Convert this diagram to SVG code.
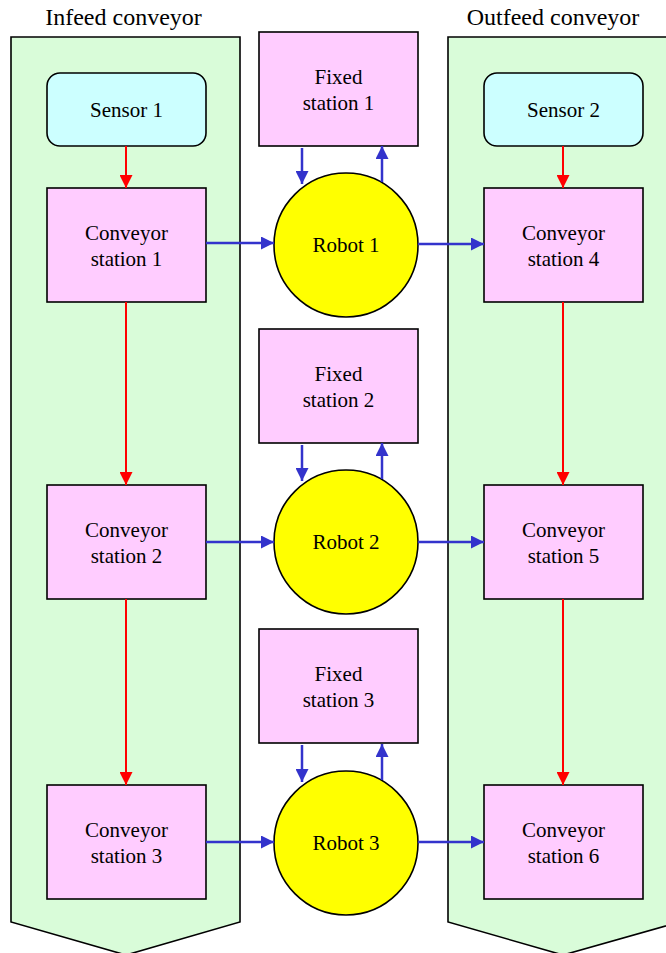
<svg xmlns="http://www.w3.org/2000/svg" width="666" height="953" viewBox="0 0 666 953">
  <defs>
    <style>
      .lane { fill: #d9fcd9; stroke: #000; stroke-width: 1.6; }
      .sensor { fill: #ccffff; stroke: #000; stroke-width: 1.6; }
      .station { fill: #ffccff; stroke: #000; stroke-width: 1.6; }
      .robot { fill: #ffff00; stroke: #000; stroke-width: 1.6; }
      .red { stroke: #ff0000; stroke-width: 2; fill: none; marker-end: url(#ahRed); }
      .blue { stroke: #3333cc; stroke-width: 2.5; fill: none; marker-end: url(#ahBlue); }
    </style>
    <marker id="ahRed" viewBox="0 0 10 10" refX="10" refY="5" markerUnits="userSpaceOnUse" markerWidth="13" markerHeight="13" orient="auto">
      <path d="M0,0 L10,5 L0,10 Z" fill="#ff0000"/>
    </marker>
    <marker id="ahBlue" viewBox="0 0 10 10" refX="10" refY="5" markerUnits="userSpaceOnUse" markerWidth="13" markerHeight="13" orient="auto">
      <path d="M0,0 L10,5 L0,10 Z" fill="#3333cc"/>
    </marker>
  </defs>

  <rect width="666" height="953" fill="#ffffff"/>

  <!-- conveyor lanes -->
  <g id="infeed">
    <path class="lane" d="M11,37 L240,37 L240,922 L126,955 L11,922 Z"/>
    <text font-family="Liberation Serif" font-size="24" text-anchor="middle" x="123.5" y="25">Infeed conveyor</text>
  </g>
  <g id="outfeed">
    <path class="lane" d="M448,37 L680,37 L680,922 L563,955 L448,922 Z"/>
    <text font-family="Liberation Serif" font-size="24" text-anchor="middle" x="553" y="25">Outfeed conveyor</text>
  </g>

  <!-- sensors -->
  <g id="sensor1">
    <rect class="sensor" x="47" y="73" width="159" height="73" rx="13"/>
    <text font-family="Liberation Serif" font-size="21" text-anchor="middle" x="126.5" y="116.5">Sensor 1</text>
  </g>
  <g id="sensor2">
    <rect class="sensor" x="484" y="73" width="159" height="73" rx="13"/>
    <text font-family="Liberation Serif" font-size="21" text-anchor="middle" x="563.5" y="116.5">Sensor 2</text>
  </g>

  <!-- conveyor stations -->
  <g id="cs1">
    <rect class="station" x="47" y="188" width="159" height="114"/>
    <text font-family="Liberation Serif" font-size="21" text-anchor="middle" x="126.5" y="240">Conveyor</text>
    <text font-family="Liberation Serif" font-size="21" text-anchor="middle" x="126.5" y="265.5">station 1</text>
  </g>
  <g id="cs2">
    <rect class="station" x="47" y="485" width="159" height="114"/>
    <text font-family="Liberation Serif" font-size="21" text-anchor="middle" x="126.5" y="537">Conveyor</text>
    <text font-family="Liberation Serif" font-size="21" text-anchor="middle" x="126.5" y="562.5">station 2</text>
  </g>
  <g id="cs3">
    <rect class="station" x="47" y="785" width="159" height="114"/>
    <text font-family="Liberation Serif" font-size="21" text-anchor="middle" x="126.5" y="837">Conveyor</text>
    <text font-family="Liberation Serif" font-size="21" text-anchor="middle" x="126.5" y="862.5">station 3</text>
  </g>
  <g id="cs4">
    <rect class="station" x="484" y="188" width="159" height="114"/>
    <text font-family="Liberation Serif" font-size="21" text-anchor="middle" x="563.5" y="240">Conveyor</text>
    <text font-family="Liberation Serif" font-size="21" text-anchor="middle" x="563.5" y="265.5">station 4</text>
  </g>
  <g id="cs5">
    <rect class="station" x="484" y="485" width="159" height="114"/>
    <text font-family="Liberation Serif" font-size="21" text-anchor="middle" x="563.5" y="537">Conveyor</text>
    <text font-family="Liberation Serif" font-size="21" text-anchor="middle" x="563.5" y="562.5">station 5</text>
  </g>
  <g id="cs6">
    <rect class="station" x="484" y="785" width="159" height="114"/>
    <text font-family="Liberation Serif" font-size="21" text-anchor="middle" x="563.5" y="837">Conveyor</text>
    <text font-family="Liberation Serif" font-size="21" text-anchor="middle" x="563.5" y="862.5">station 6</text>
  </g>

  <!-- fixed stations -->
  <g id="fs1">
    <rect class="station" x="259" y="32" width="159" height="114"/>
    <text font-family="Liberation Serif" font-size="21" text-anchor="middle" x="338.5" y="84">Fixed</text>
    <text font-family="Liberation Serif" font-size="21" text-anchor="middle" x="338.5" y="109.5">station 1</text>
  </g>
  <g id="fs2">
    <rect class="station" x="259" y="329" width="159" height="114"/>
    <text font-family="Liberation Serif" font-size="21" text-anchor="middle" x="338.5" y="381">Fixed</text>
    <text font-family="Liberation Serif" font-size="21" text-anchor="middle" x="338.5" y="406.5">station 2</text>
  </g>
  <g id="fs3">
    <rect class="station" x="259" y="629" width="159" height="114"/>
    <text font-family="Liberation Serif" font-size="21" text-anchor="middle" x="338.5" y="681">Fixed</text>
    <text font-family="Liberation Serif" font-size="21" text-anchor="middle" x="338.5" y="706.5">station 3</text>
  </g>

  <!-- robots -->
  <g id="robot1">
    <circle class="robot" cx="346" cy="245" r="72"/>
    <text font-family="Liberation Serif" font-size="21" text-anchor="middle" x="346" y="252">Robot 1</text>
  </g>
  <g id="robot2">
    <circle class="robot" cx="346" cy="542" r="72"/>
    <text font-family="Liberation Serif" font-size="21" text-anchor="middle" x="346" y="549">Robot 2</text>
  </g>
  <g id="robot3">
    <circle class="robot" cx="346" cy="843" r="72"/>
    <text font-family="Liberation Serif" font-size="21" text-anchor="middle" x="346" y="850">Robot 3</text>
  </g>

  <!-- connectors -->
  <g id="connectors">
    <!-- infeed flow -->
    <line class="red" x1="126" y1="146" x2="126" y2="188"/>
    <line class="red" x1="126" y1="302" x2="126" y2="485"/>
    <line class="red" x1="126" y1="599" x2="126" y2="785"/>
    <!-- outfeed flow -->
    <line class="red" x1="563" y1="146" x2="563" y2="188"/>
    <line class="red" x1="563" y1="302" x2="563" y2="485"/>
    <line class="red" x1="563" y1="599" x2="563" y2="785"/>

    <!-- station to robot -->
    <line class="blue" x1="206" y1="243" x2="274" y2="243"/>
    <line class="blue" x1="206" y1="542" x2="274" y2="542"/>
    <line class="blue" x1="206" y1="842" x2="274" y2="842"/>
    <!-- robot to outfeed -->
    <line class="blue" x1="418" y1="244" x2="484" y2="244"/>
    <line class="blue" x1="418" y1="542" x2="484" y2="542"/>
    <line class="blue" x1="418" y1="842" x2="484" y2="842"/>

    <!-- fixed station exchange -->
    <line class="blue" x1="302" y1="148" x2="302" y2="184"/>
    <line class="blue" x1="382" y1="182" x2="382" y2="146"/>
    <line class="blue" x1="302" y1="445" x2="302" y2="481"/>
    <line class="blue" x1="382" y1="479" x2="382" y2="443"/>
    <line class="blue" x1="302" y1="745" x2="302" y2="782"/>
    <line class="blue" x1="382" y1="780" x2="382" y2="744"/>
  </g>
</svg>
